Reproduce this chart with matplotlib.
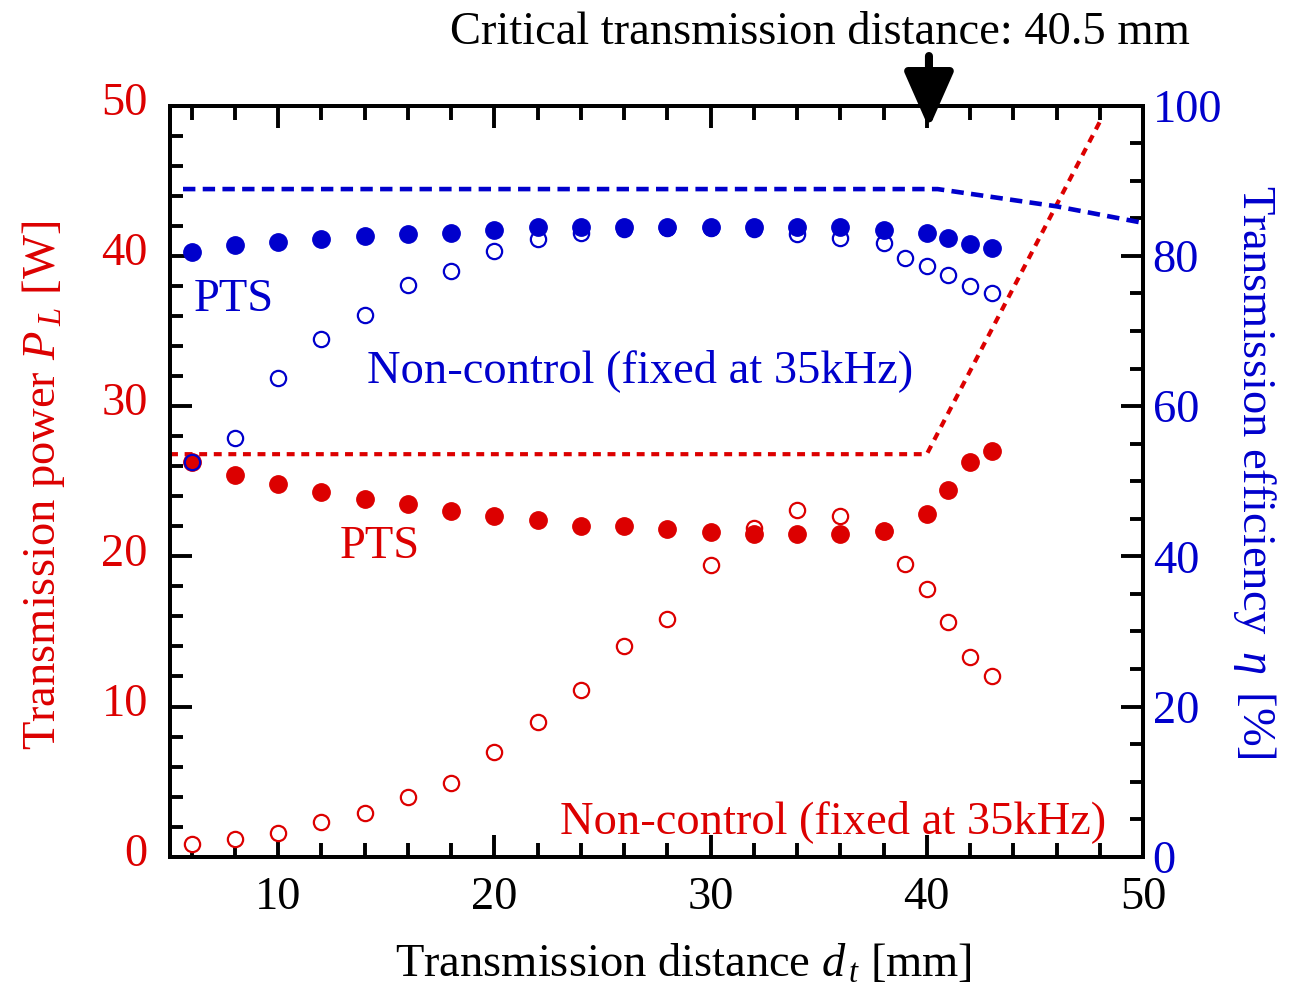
import numpy as np
import matplotlib
matplotlib.use("Agg")
import matplotlib.pyplot as plt
from matplotlib.ticker import MultipleLocator
from matplotlib.transforms import ScaledTranslation

plt.rcParams['font.family'] = ['Liberation Serif', 'DejaVu Serif']
plt.rcParams['mathtext.fontset'] = 'custom'
plt.rcParams['mathtext.rm'] = 'Liberation Serif'
plt.rcParams['mathtext.it'] = 'Liberation Serif:italic'

RED = '#dc0000'
BLUE = '#0000cc'
FS = 33.5

# PTS (frequency tracking) measurements
d_pts = [6, 8, 10, 12, 14, 16, 18, 20, 22, 24, 26, 28, 30, 32, 34, 36, 38, 40, 41, 42, 43]
p_pts = [26.3, 25.4, 24.8, 24.3, 23.8, 23.5, 23.0, 22.7, 22.4, 22.0, 22.0,
         21.8, 21.6, 21.5, 21.5, 21.5, 21.7, 22.8, 24.4, 26.3, 27.0]
eta_pts = [80.5, 81.4, 81.8, 82.3, 82.6, 82.9, 83.1, 83.4, 83.8, 83.8, 83.8,
           83.9, 83.9, 83.8, 83.8, 83.8, 83.5, 83.0, 82.4, 81.6, 81.0]

# non-control (fixed at 35 kHz)
d_nc = [6, 8, 10, 12, 14, 16, 18, 20, 22, 24, 26, 28, 30, 32, 34, 36, 38, 39, 40, 41, 42, 43]
p_nc = [0.85, 1.2, 1.6, 2.3, 2.9, 4.0, 4.9, 7.0, 9.0, 11.1, 14.0,
        15.8, 19.4, 21.9, 23.1, 22.7, 21.7, 19.5, 17.8, 15.6, 13.3, 12.0]
eta_nc = [52.6, 55.8, 63.8, 68.9, 72.1, 76.1, 78.0, 80.7, 82.2, 83.1, 83.6,
          83.7, 83.7, 83.6, 82.9, 82.4, 81.7, 79.7, 78.7, 77.4, 76.0, 75.0]

# theoretical limits
d_plim = [5, 40.0, 48.1]
p_lim = [26.8, 26.8, 49.2]
d_elim = [5.6, 40.5, 46.0, 50.0]
eta_lim = [88.9, 88.9, 86.6, 84.4]

d_crit = 40.1

fig = plt.figure(figsize=(13.09, 10.02), dpi=100)
ax = fig.add_axes([0.1299, 0.145, 0.7433, 0.7495])
ax2 = ax.twinx()

ax.plot(d_plim, p_lim, color=RED, lw=3.0, linestyle=(0, (1.9, 1.6)))
ax.plot(d_nc, p_nc, 'o', mfc='white', mec=RED, mew=1.6, ms=11)
ax.plot(d_pts, p_pts, 'o', color=RED, ms=12.5)

ax2.plot(d_elim, eta_lim, color=BLUE, lw=3.3, linestyle=(0, (2.7, 1.6)))
ax2.plot(d_nc, eta_nc, 'o', mfc='none', mec=BLUE, mew=1.6, ms=11)
ax2.plot(d_pts, eta_pts, 'o', color=BLUE, ms=12.5)

ax.set_xlim(5, 50)
ax.set_ylim(0, 50)
ax2.set_ylim(0, 100)

ax.xaxis.set_major_locator(MultipleLocator(10))
ax.xaxis.set_minor_locator(MultipleLocator(2))
ax.yaxis.set_major_locator(MultipleLocator(10))
ax.yaxis.set_minor_locator(MultipleLocator(2))
ax2.yaxis.set_major_locator(MultipleLocator(20))
ax2.yaxis.set_minor_locator(MultipleLocator(5))

for a in (ax, ax2):
    for s in a.spines.values():
        s.set_linewidth(2.8)

ax.tick_params(axis='x', which='both', direction='in', top=True, width=2.8,
               labelsize=FS, pad=14)
ax.tick_params(axis='x', which='major', length=16)
ax.tick_params(axis='x', which='minor', length=10)
ax.tick_params(axis='y', which='both', direction='in', right=False, width=2.8,
               labelsize=FS, labelcolor=RED, pad=16)
ax.tick_params(axis='y', which='major', length=16)
ax.tick_params(axis='y', which='minor', length=9.5)
ax2.tick_params(axis='y', which='both', direction='in', width=2.8,
                labelsize=FS, labelcolor=BLUE, pad=7)
ax2.tick_params(axis='y', which='major', length=16)
ax2.tick_params(axis='y', which='minor', length=9.5)

shift = ScaledTranslation(0, 7 / 100, fig.dpi_scale_trans)
for lab in ax.get_yticklabels():
    lab.set_transform(lab.get_transform() + shift)

ax.set_xlabel(r'Transmission distance $d_{\,t}$ [mm]', fontsize=FS)
ax.xaxis.set_label_coords(0.528, -0.160)
ax.xaxis.label.set_va('baseline')

ax.set_ylabel(r'Transmission power $P_{\;L}$ [W]', fontsize=FS, color=RED)
ax.yaxis.set_label_coords(-0.118, 0.495)
ax.yaxis.label.set_va('baseline')

ax2.set_ylabel(r'Transmission efficiency $\,\eta\,$ [%]', fontsize=FS, color=BLUE,
               rotation=270)
ax2.yaxis.set_label_coords(1.1028, 0.512)
ax2.yaxis.label.set_va('baseline')

ax.text(6.1, 36.35, 'PTS', color=BLUE, fontsize=FS, va='baseline')
ax.text(14.1, 31.6, 'Non-control (fixed at 35kHz)', color=BLUE, fontsize=FS, va='baseline')
ax.text(12.85, 19.9, 'PTS', color=RED, fontsize=FS, va='baseline')
ax.text(23.05, 1.6, 'Non-control (fixed at 35kHz)', color=RED, fontsize=FS, va='baseline')

fig.text(450 / 1309, 1 - 43.5 / 1002, 'Critical transmission distance: 40.5 mm',
         fontsize=FS, va='baseline', ha='left')
ax.annotate('', xy=(d_crit, 48.5), xycoords='data',
            xytext=(d_crit, 1 - 56 / 1002), textcoords=('data', 'figure fraction'),
            arrowprops=dict(arrowstyle='-|>,head_length=3.4,head_width=1.5',
                            color='black', lw=5.8, shrinkA=0, shrinkB=0),
            annotation_clip=False)

fig.savefig('out.png', dpi=100)
